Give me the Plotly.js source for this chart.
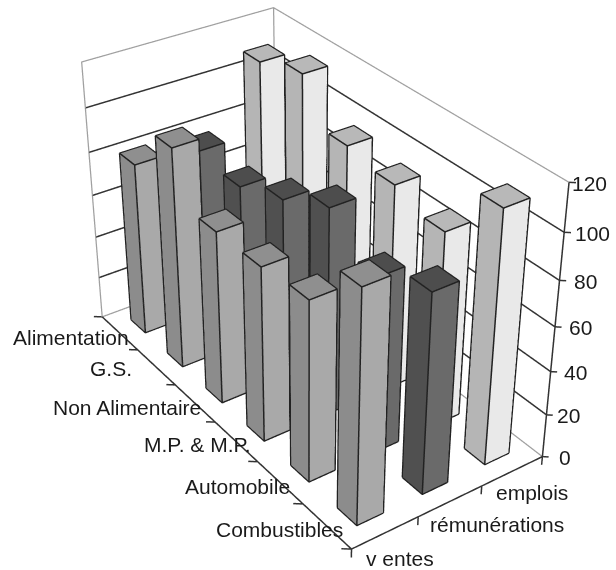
<!DOCTYPE html>
<html><head><meta charset="utf-8"><script src="https://cdn.plot.ly/plotly-3.0.1.min.js"></script>
<style>html,body{margin:0;padding:0;background:#fff;overflow:hidden;width:616px;height:570px}#w{position:absolute;left:0;top:0;width:616px;height:570px;overflow:hidden}#c{position:absolute;left:-388px;top:-411px;width:1392px;height:1392px}</style></head>
<body><div id="w"><div id="c"></div></div>
<script>
const categories=['Alimentation','G.S.','Non Alimentaire','M.P. &amp; M.P.','Automobile','Combustibles'];
const seriesNames=['v entes','rémunérations','emplois'];
const zTicks=[0,20,40,60,80,100,120];
const ventes=[80.8,101.7,79.5,79.6,81.6,103];
const remunerations=[77.7,74.9,83.2,94.1,79.9,89.6];
const emplois=[109.1,115.7,97.1,93.8,88.2,112.6];
const S=1392;
const eye={x:7.4769,y:-5.2809,z:5.7358},center={x:-0.0982,y:0.0575,z:-0.2874};
const half=[1.5004,0.7539,1];
var vs=[ventes,remunerations,emplois];
var faces=[['#8c8c8c','#a9a9a9','#8f8f8f'],['#505050','#6a6a6a','#4d4d4d'],['#b5b5b5','#e9e9e9','#b8b8b8']];
function traces(){var t=[];var ex=[],ey=[],ez=[];var eps=.004;
vs.forEach(function(v,s){var X=[],Y=[],Z=[],I=[],J=[],K=[],C=[];v.forEach(function(h,c){var x0=c+.3,x1=c+.7,y0=s+.3,y1=s+.7;var b=X.length;
[[x0+eps,y0+eps,.1],[x1-eps,y0+eps,.1],[x1-eps,y1-eps,.1],[x0+eps,y1-eps,.1],[x0+eps,y0+eps,h-.1],[x1-eps,y0+eps,h-.1],[x1-eps,y1-eps,h-.1],[x0+eps,y1-eps,h-.1]].forEach(function(p){X.push(p[0]);Y.push(p[1]);Z.push(p[2])});
[[4,5,6,2],[4,6,7,2],[0,1,5,1],[0,5,4,1],[1,2,6,0],[1,6,5,0]].forEach(function(f){I.push(b+f[0]);J.push(b+f[1]);K.push(b+f[2]);C.push(f[3]==1?faces[s][0]:f[3]==0?faces[s][1]:faces[s][2])});
[[[x0,y0,0],[x1,y0,0],[x1,y1,0]],[[x0,y0,h],[x1,y0,h],[x1,y1,h],[x0,y1,h],[x0,y0,h]],[[x0,y0,0],[x0,y0,h]],[[x1,y0,0],[x1,y0,h]],[[x1,y1,0],[x1,y1,h]]].forEach(function(l){l.forEach(function(p){ex.push(p[0]);ey.push(p[1]);ez.push(p[2])});ex.push(null);ey.push(null);ez.push(null)});
});
t.push({type:'mesh3d',x:X,y:Y,z:Z,i:I,j:J,k:K,facecolor:C,flatshading:true,hoverinfo:'skip',lighting:{ambient:1,diffuse:0,specular:0,roughness:1,fresnel:0},lightposition:{x:0,y:0,z:1000}})});
t.push({type:'scatter3d',mode:'lines',x:ex,y:ey,z:ez,line:{color:'#222',width:3},connectgaps:false,hoverinfo:'skip'});
function seg(arr,col,w){var x=[],y=[],z=[];arr.forEach(function(l){l.forEach(function(p){x.push(p[0]);y.push(p[1]);z.push(p[2])});x.push(null);y.push(null);z.push(null)});t.push({type:'scatter3d',mode:'lines',x:x,y:y,z:z,line:{color:col,width:w},connectgaps:false,hoverinfo:'skip'})}
seg([[[0,0,0],[0,0,120],[0,3,120],[6,3,120]],[[0,3,0],[0,3,120]],[[0,0,0],[0,3,0],[6,3,0]]],'#a0a0a0',2.5);
seg(zTicks.slice(1,6).map(function(z){return [[0,0,z],[0,3,z],[6,3,z]]}),'#333',3);
var ax=[[[0,0,0],[6,0,0],[6,3,0],[6,3,120]]];
for(var c=0;c<=6;c++)ax.push([[c,0,0],[c-.074,-.094,0]]);
for(var s=0;s<=3;s++)ax.push([[6,s,0],[6,s,-4]]);
zTicks.forEach(function(z){ax.push([[6,3,z],[6.05,3.06,z]])});
seg(ax,'#333',3);
return t}
var catShift=[11,-22,8,17,12,18],catY=[-4,-1,-4,-3,-4,-3];
var serShift=[-21,-22,-18],serY=[-26,-23,-21];
var zShift=[15,9,11,12,12,9,1];
var f={family:'Liberation Sans, Arial, sans-serif',size:21,color:'#1a1a1a'};
var ann=[];
categories.forEach(function(c,i){ann.push({x:i+.5,y:0,z:0,text:c,showarrow:false,xanchor:'right',yanchor:'middle',xshift:catShift[i],yshift:catY[i],font:f})});
seriesNames.forEach(function(c,i){ann.push({x:6,y:i+.5,z:0,text:c,showarrow:false,xanchor:'left',yanchor:'middle',xshift:serShift[i],yshift:serY[i],font:f})});
zTicks.forEach(function(z,i){ann.push({x:6,y:3,z:z,text:String(z),showarrow:false,xanchor:'left',yanchor:'middle',xshift:zShift[i],yshift:-1,font:f})});
var fx=6.6/6,fy=3.6/3,fz=132/120;
Plotly.newPlot('c',traces(),{width:S,height:S,margin:{l:0,r:0,t:0,b:0},showlegend:false,paper_bgcolor:'#fff',
scene:{domain:{x:[0,1],y:[0,1]},aspectmode:'manual',aspectratio:{x:half[0]*fx/.5,y:half[1]*fy/.5,z:half[2]*fz/.5},
camera:{eye:eye,center:center,up:{x:0,y:0,z:1}},
xaxis:{visible:false,range:[-.3,6.3]},yaxis:{visible:false,range:[-.3,3.3]},zaxis:{visible:false,range:[-6,126]},annotations:ann}},{displayModeBar:false});
</script></body></html>
